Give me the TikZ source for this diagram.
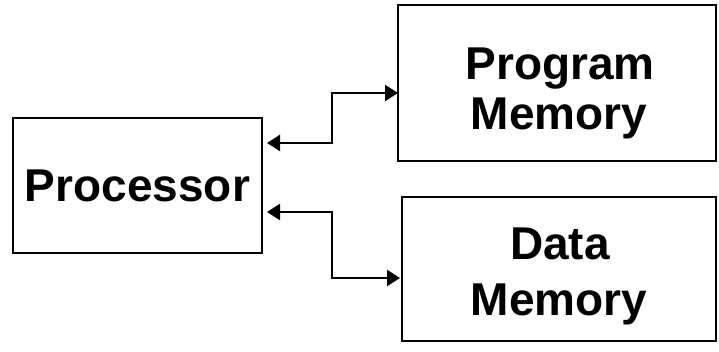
\documentclass[tikz,border=0pt]{standalone}
\usepackage{fontspec}
\setmainfont{Liberation Sans}
\usetikzlibrary{arrows.meta}
\begin{document}
\begin{tikzpicture}[x=1pt,y=-1pt,
  box/.style={draw=black, line width=2.6pt, rectangle, inner sep=0pt},
  txt/.style={font=\fontsize{46}{55}\selectfont\bfseries, anchor=base, inner sep=0pt},
  dbl/.style={line width=2.4pt, {Triangle[length=13pt,width=16pt]}-{Triangle[length=13pt,width=16pt]}}]
\useasboundingbox (0,0) rectangle (719,352);
\node[box, minimum width=249pt, minimum height=135pt] (proc) at (137.5,185.5) {};
\node[box, minimum width=318pt, minimum height=156pt] (pm) at (557,83) {};
\node[box, minimum width=314pt, minimum height=144pt] (dm) at (559,269) {};
\node[txt] (proct) at (137.5,202) {Processor};
\node[txt] (pmt1) at (560,80) {Program};
\node[txt] (pmt2) at (559,130) {Memory};
\node[txt] (dmt1) at (560,260) {Data};
\node[txt] (dmt2) at (559,315) {Memory};
\coordinate (a1) at (267,143);
\coordinate (b1) at (398,93);
\coordinate (a2) at (267,212);
\coordinate (b2) at (400,278);
\draw[dbl] (a1) -- (332,143) |- (b1);
\draw[dbl] (a2) -- (332,212) |- (b2);
\end{tikzpicture}
\end{document}
